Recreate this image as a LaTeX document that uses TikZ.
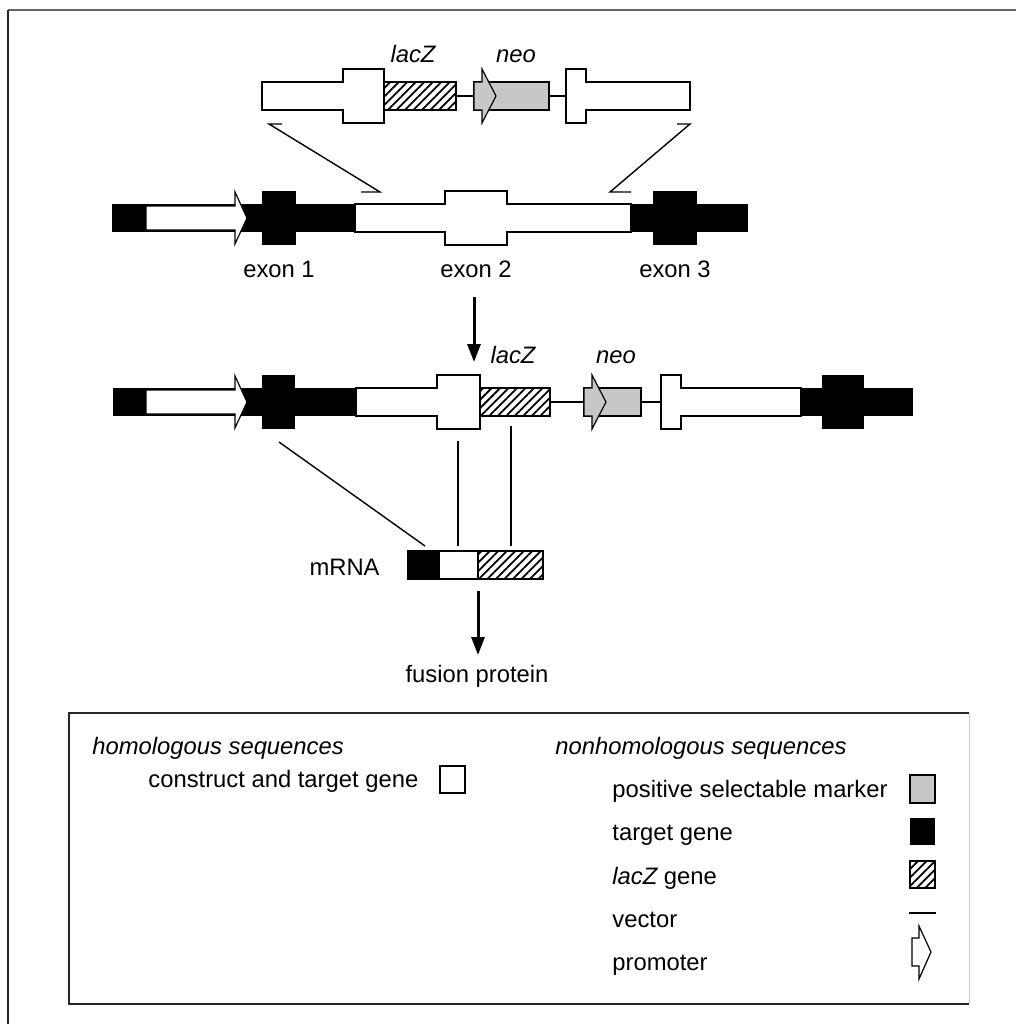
\documentclass[tikz,border=0pt]{standalone}
\usepackage{fontspec}
\setmainfont{Liberation Sans}
\usepackage{tikz}
\usetikzlibrary{patterns.meta,arrows.meta}

\begin{document}
\begin{tikzpicture}[x=0.5pt,y=-0.5pt,
	font=\fontsize{11.9}{14}\selectfont,
	outl/.style={draw=black,line width=0.6pt,fill=white},
	hatch/.style={draw=black,line width=0.6pt,pattern={Lines[angle=45,distance=3pt,line width=0.9pt]}},
	markr/.style={draw=black,line width=0.6pt,fill=black!22},
	tgt/.style={fill=black},
	vec/.style={line width=1pt},
	link/.style={line width=0.7pt},
	flow/.style={line width=1.5pt,-{Triangle[length=9pt,width=6.5pt]}},
	lbl/.style={inner sep=0pt,anchor=base}]
					\useasboundingbox (0,0) rectangle (1016,1024);
					% Define the frame
					\draw[line width=1pt,black!60] (1016,10) -- (8,10);
					\draw[line width=1pt,black!85] (8,10) -- (8,1024);
					
					% Draw the construct
					\node[lbl] (lacz1) at (413,62) {\itshape lacZ};
					\node[lbl] (neo1) at (516,62) {\itshape neo};
					\draw[outl] (262,82) -- (343,82) -- (343,69) -- (384,69) -- (384,123) -- (343,123) -- (343,110) -- (262,110) -- cycle;
					\draw[hatch] (384,82) rectangle (456,110);
					\draw[vec] (456,96) -- (474,96);
					\draw[vec] (549,96) -- (566,96);
					\draw[markr] (474,82) rectangle (549,110);
					\draw[markr] (474,82) -- (482,82) -- (482,69) -- (496,96) -- (482,123) -- (482,110) -- (474,110) -- cycle;
					\draw[outl] (566,69) -- (586,69) -- (586,82) -- (690,82) -- (690,110) -- (586,110) -- (586,123) -- (566,123) -- cycle;
					
					% Draw the crossovers
					\coordinate (xa) at (269,124);
					\coordinate (xb) at (282,124);
					\coordinate (xc) at (380,192);
					\coordinate (xd) at (361,192);
					\coordinate (ya) at (690,124);
					\coordinate (yb) at (677,124);
					\coordinate (yc) at (610,192);
					\coordinate (yd) at (631,192);
					\draw[link] (xb) -- (xa) -- (xc) -- (xd);
					\draw[link] (yb) -- (ya) -- (yc) -- (yd);
					
					% Draw the target gene
					\fill[tgt] (112,204) rectangle (355,232);
					\fill[tgt] (631,204) rectangle (748,232);
					\fill[tgt] (262,191) rectangle (296,245);
					\fill[tgt] (653,191) rectangle (697,245);
					\draw[outl] (146,206) -- (235,206) -- (235,192) -- (247,218) -- (235,244) -- (235,230) -- (146,230) -- cycle;
					\draw[outl] (355,204) -- (445,204) -- (445,191) -- (507,191) -- (507,204) -- (631,204) -- (631,232) -- (507,232) -- (507,245) -- (445,245) -- (445,232) -- (355,232) -- cycle;
					\node[lbl] (ex1) at (279,277) {exon 1};
					\node[lbl] (ex2) at (476,277) {exon 2};
					\node[lbl] (ex3) at (675,277) {exon 3};
					
					% Draw the recombination step
					\coordinate (ra) at (474,297);
					\coordinate (rb) at (474,362);
					\draw[flow] (ra) -- (rb);
					
					% Draw the targeted allele
					\node[lbl] (lacz2) at (513,363) {\itshape lacZ};
					\node[lbl] (neo2) at (616,363) {\itshape neo};
					\fill[tgt] (113,388) rectangle (356,416);
					\fill[tgt] (262,375) rectangle (295,429);
					\draw[outl] (146,390) -- (235,390) -- (235,376) -- (247,402) -- (235,428) -- (235,414) -- (146,414) -- cycle;
					\draw[outl] (356,388) -- (437,388) -- (437,375) -- (480,375) -- (480,429) -- (437,429) -- (437,416) -- (356,416) -- cycle;
					\draw[hatch] (480,388) rectangle (550,416);
					\draw[vec] (550,402) -- (584,402);
					\draw[markr] (584,388) rectangle (641,416);
					\draw[markr] (584,388) -- (592,388) -- (592,375) -- (606,402) -- (592,429) -- (592,416) -- (584,416) -- cycle;
					\draw[vec] (641,402) -- (661,402);
					\draw[outl] (661,375) -- (681,375) -- (681,388) -- (801,388) -- (801,416) -- (681,416) -- (681,429) -- (661,429) -- cycle;
					\fill[tgt] (801,388) rectangle (913,416);
					\fill[tgt] (822,375) rectangle (864,429);
					
					% Draw the transcript
					\coordinate (ma) at (279,442);
					\coordinate (mb) at (425,546);
					\coordinate (mc) at (458,441);
					\coordinate (md) at (458,546);
					\coordinate (me) at (511,426);
					\coordinate (mf) at (511,546);
					\draw[link] (ma) -- (mb);
					\draw[link] (mc) -- (md);
					\draw[link] (me) -- (mf);
					\fill[tgt] (408,551) rectangle (439,579);
					\draw[outl] (439,551) rectangle (478,579);
					\draw[hatch] (478,551) rectangle (543,579);
					\draw[line width=0.6pt] (408,551) rectangle (543,579);
					\node[lbl,anchor=base east] (mrna) at (380,575) {mRNA};
					\coordinate (fa) at (478,591);
					\coordinate (fb) at (478,655);
					\draw[flow] (fa) -- (fb);
					\node[lbl] (fus) at (477,682) {fusion protein};
					
					% Draw the legend
					\draw[line width=1pt,black!85] (969,713) -- (69,713) -- (69,1004) -- (969,1004);
					\draw[line width=0.5pt,black!20] (969,713) -- (969,1004);
					\node[lbl,anchor=base west] (hom) at (92,754) {\itshape homologous sequences};
					\node[lbl,anchor=base west] (nonhom) at (555,754) {\itshape nonhomologous sequences};
					\node[lbl,anchor=base west] (cons) at (148,787) {construct and target gene};
					\draw[outl] (440,766) rectangle (465,793);
					\node[lbl,anchor=base west] (pos) at (612,797) {positive selectable marker};
					\node[lbl,anchor=base west] (tg) at (612,840) {target gene};
					\node[lbl,anchor=base west] (lg) at (612,884) {{\itshape lacZ} gene};
					\node[lbl,anchor=base west] (vc) at (612,927) {vector};
					\node[lbl,anchor=base west] (pr) at (612,970) {promoter};
					\draw[markr] (910,775) rectangle (935,803);
					\fill[tgt] (910,818) rectangle (935,845);
					\draw[hatch] (910,861) rectangle (935,888);
					\draw[vec] (909,913) -- (936,913);
					\draw[outl] (912,938) -- (919,938) -- (919,926) -- (931,952) -- (919,979) -- (919,966) -- (912,966) -- cycle;
\end{tikzpicture}
\end{document}
